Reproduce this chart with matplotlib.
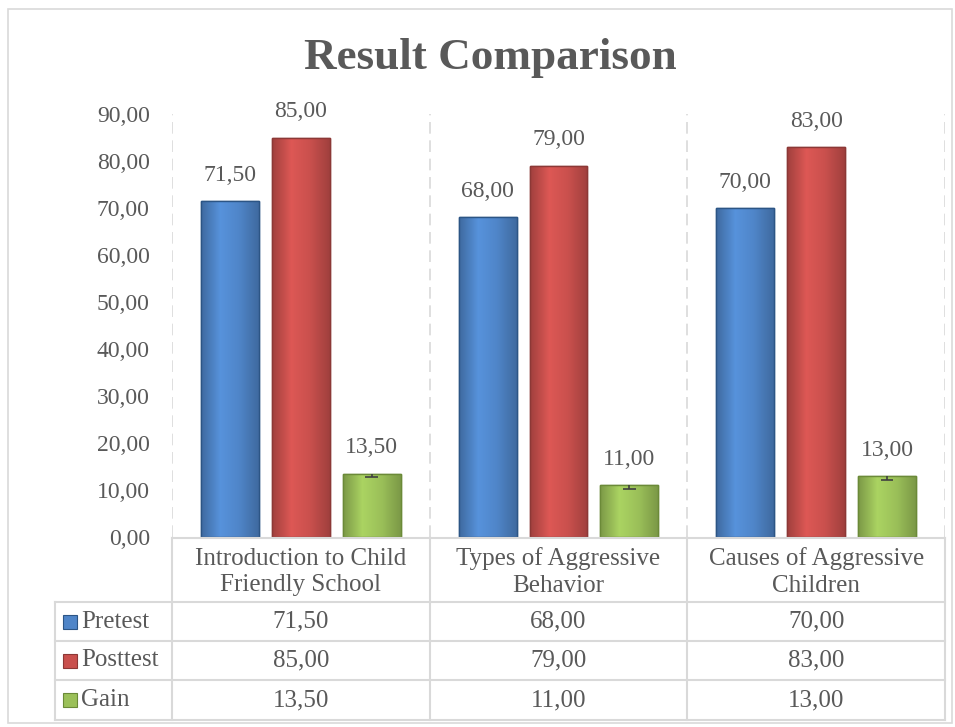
import numpy as np
import matplotlib.pyplot as plt
from matplotlib.patches import Rectangle
from matplotlib.colors import LinearSegmentedColormap, to_rgb
import matplotlib.transforms as mtransforms

# data
categories = ['Introduction to Child\nFriendly School', 'Types of Aggressive\nBehavior',
              'Causes of Aggressive\nChildren']
series_names = ['Pretest', 'Posttest', 'Gain']
pretest = [71.5, 68.0, 70.0]
posttest = [85.0, 79.0, 83.0]
gain = [13.5, 11.0, 13.0]
gain_err = [0.8, 0.8, 0.8]
yticks = [0, 10, 20, 30, 40, 50, 60, 70, 80, 90]

colors = ['#4f85c8', '#c9504d', '#9bc059']
edges = ['#2c5585', '#8c3836', '#6b8a38']
text_col = '#595959'
grid_col = '#d9d9d9'
FAM = ['Liberation Serif', 'DejaVu Serif']

plt.rcParams['font.family'] = FAM


def fmt(v):
    return f'{v:.2f}'.replace('.', ',')


fig = plt.figure(figsize=(9.55, 7.27), dpi=100)
ax = fig.add_axes([172 / 955, 1 - 537 / 727, 773 / 955, 423 / 727])

# outer chart border
fig.patches.append(Rectangle((8 / 955, 4 / 727), 944 / 955, 714 / 727, transform=fig.transFigure,
                             fill=False, edgecolor=grid_col, linewidth=1.2))

x = np.arange(len(categories))
width = 0.225
offsets = [-0.275, 0.0, 0.275]
all_series = [pretest, posttest, gain]

for vals, off, c, ec in zip(all_series, offsets, colors, edges):
    bars = ax.bar(x + off, vals, width, color=c, edgecolor=ec, linewidth=1.0, zorder=3)
    # soft horizontal shading to mimic the bevel look
    base = np.array(to_rgb(c))
    cmap = LinearSegmentedColormap.from_list('s', [base * 0.8, np.minimum(base * 1.1, 1), base, base * 0.8])
    for b in bars:
        bx, by = b.get_x(), b.get_y()
        bw, bh = b.get_width(), b.get_height()
        im = ax.imshow(np.linspace(0, 1, 64).reshape(1, -1), cmap=cmap, aspect='auto',
                       extent=[bx, bx + bw, by, by + bh], zorder=3.5)
        im.set_clip_path(b)
        ax.bar(bx + bw / 2, bh, bw, fill=False, edgecolor=ec, linewidth=1.0, zorder=4)
    for xi, v in zip(x + off, vals):
        ax.annotate(fmt(v), (xi, v), xytext=(0, 11), textcoords='offset points',
                    ha='center', va='bottom', fontsize=17, color=text_col)

# minus-only error bars on the gain bars
gx = x + offsets[2]
low = np.array(gain) - np.array(gain_err)
ax.vlines(gx, low, gain, color='#404040', lw=1.2, zorder=5)
ax.hlines(low, gx - 0.025, gx + 0.025, color='#404040', lw=1.2, zorder=5)

ax.set_xlim(-0.5, len(categories) - 0.5)
ax.set_ylim(0, 90)
ax.set_yticks(yticks)
ax.set_yticklabels([fmt(t) for t in yticks], fontsize=17, color=text_col)
ax.tick_params(axis='y', length=0, pad=16)
ax.set_xticks([])
for s in ax.spines.values():
    s.set_visible(False)
for b in np.arange(len(categories) + 1) - 0.5:
    ax.axvline(b, color=grid_col, linestyle=(0, (7, 4)), linewidth=1.2, zorder=1)

# data table under the plot
trans = mtransforms.blended_transform_factory(ax.transData, fig.transFigure)
ftrans = fig.transFigure
row_edges = [538, 540, 602, 641, 680, 720]
ry = [1 - r / 727 for r in row_edges]
lw = 1.5
fig.add_artist(plt.Line2D([-0.5, 2.5], [ry[0], ry[0]], transform=trans, color=grid_col, lw=lw))
for y in ry[2:]:
    fig.add_artist(plt.Line2D([55 / 955, 945 / 955], [y, y], transform=ftrans, color=grid_col, lw=lw))
for b in np.arange(len(categories) + 1) - 0.5:
    fig.add_artist(plt.Line2D([b, b], [ry[0], ry[-1]], transform=trans, color=grid_col, lw=lw))
fig.add_artist(plt.Line2D([55 / 955, 55 / 955], [ry[2], ry[-1]], transform=ftrans, color=grid_col, lw=lw))

for xi, cat in zip(x, categories):
    t = fig.text(0, (ry[1] + ry[2]) / 2 - 1 / 727, cat, transform=trans, ha='center', va='center',
                 fontsize=18, color=text_col, linespacing=1.25, family=FAM)
    t.set_x(xi)

for i, (name, vals, c, ec) in enumerate(zip(series_names, all_series, colors, edges)):
    yc = (ry[2 + i] + ry[3 + i]) / 2
    fig.patches.append(Rectangle((63 / 955, yc - 7 / 727), 14 / 955, 14 / 727, transform=ftrans,
                                 facecolor=c, edgecolor=ec, linewidth=0.8))
    fig.text(81 / 955, yc, name, ha='left', va='center', fontsize=18, color=text_col, family=FAM)
    for xi, v in zip(x, vals):
        t = fig.text(0, yc, fmt(v), transform=trans, ha='center', va='center',
                     fontsize=18, color=text_col, family=FAM)
        t.set_x(xi)

fig.text(490 / 955, 1 - 58 / 727, 'Result Comparison', ha='center', va='center',
         fontsize=32.5, fontweight='bold', color=text_col, family=FAM)

fig.savefig('out.png', dpi=100)
